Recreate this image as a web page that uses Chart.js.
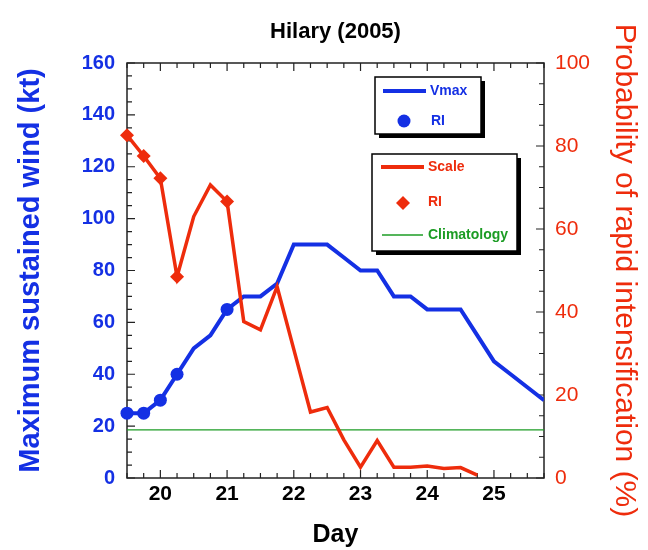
<!DOCTYPE html>
<html>
<head>
<meta charset="utf-8">
<script src="https://cdn.jsdelivr.net/npm/chart.js@4.4.1/dist/chart.umd.min.js"></script>
<style>
  html, body { margin: 0; padding: 0; background: #fff; }
  canvas { display: block; }
</style>
</head>
<body>
<canvas id="chart" width="648" height="550"></canvas>
<script>
(() => {
  'use strict';

  // data
  const vmaxDays = [19.5, 19.75, 20, 20.25, 20.5, 20.75, 21, 21.25, 21.5, 21.75, 22, 22.25, 22.5,
    22.75, 23, 23.25, 23.5, 23.75, 24, 24.25, 24.5, 24.75, 25, 25.25, 25.5, 25.75];
  const vmaxKt = [25, 25, 30, 40, 50, 55, 65, 70, 70, 75, 90, 90, 90,
    85, 80, 80, 70, 70, 65, 65, 65, 55, 45, 40, 35, 30];

  const scaleDays = [19.5, 19.75, 20, 20.25, 20.5, 20.75, 21, 21.25, 21.5, 21.75, 22, 22.25,
    22.5, 22.75, 23, 23.25, 23.5, 23.75, 24, 24.25, 24.5, 24.75];
  const scaleProb = [82.6, 77.6, 72.2, 48.5, 63, 70.6, 66.6, 37.7, 35.7, 46.1, 31, 15.9,
    17, 9.2, 2.6, 9, 2.6, 2.6, 2.9, 2.3, 2.5, 0.7];

  const riDays = [19.5, 19.75, 20, 20.25, 21];
  const riKt = [25, 25, 30, 40, 65];
  const riProb = [82.6, 77.6, 72.2, 48.5, 66.6];

  const climDays = [19.5, 25.75];
  const climProb = 11.6;

  const xTicks = [20, 21, 22, 23, 24, 25];

  const BLUE = '#1430e4';
  const RED = '#ee2c0c';
  const GREEN = '#1c9c24';
  const FONT = '"Liberation Sans", Arial, Helvetica, sans-serif';

  const toPoints = (xs, ys) => xs.map((x, i) => ({ x: x, y: Array.isArray(ys) ? ys[i] : ys }));

  // frame + inward ticks on all four sides
  const framePlugin = {
    id: 'frame',
    beforeDatasetsDraw: (chart) => {
      const { ctx, chartArea: a, scales } = chart;
      ctx.save();
      ctx.strokeStyle = '#222';
      ctx.lineWidth = 1.2;
      ctx.beginPath();
      // x ticks, every 6 hours
      for (let d = 19.5; d <= 25.75 + 1e-6; d += 0.25) {
        const px = scales.x.getPixelForValue(d);
        const len = Math.abs(d - Math.round(d)) < 1e-6 ? 8 : 5;
        ctx.moveTo(px, a.bottom); ctx.lineTo(px, a.bottom - len);
        ctx.moveTo(px, a.top); ctx.lineTo(px, a.top + len);
      }
      // left ticks, every 5 kt
      for (let v = 0; v <= 160; v += 5) {
        const py = scales.y.getPixelForValue(v);
        const len = v % 20 === 0 ? 8 : 5;
        ctx.moveTo(a.left, py); ctx.lineTo(a.left + len, py);
      }
      // right ticks, every 5 %
      for (let v = 0; v <= 100; v += 5) {
        const py = scales.y1.getPixelForValue(v);
        const len = v % 20 === 0 ? 8 : 5;
        ctx.moveTo(a.right, py); ctx.lineTo(a.right - len, py);
      }
      ctx.stroke();
      ctx.lineWidth = 1.5;
      ctx.strokeRect(a.left, a.top, a.right - a.left, a.bottom - a.top);
      ctx.restore();
    }
  };

  // the two boxed legends with drop shadows
  const legendPlugin = {
    id: 'boxLegends',
    afterDraw: (chart) => {
      const ctx = chart.ctx;
      const box = (x, y, w, h) => {
        ctx.fillStyle = '#000';
        ctx.fillRect(x + 4, y + 4, w, h);
        ctx.fillStyle = '#fff';
        ctx.fillRect(x, y, w, h);
        ctx.strokeStyle = '#000';
        ctx.lineWidth = 1.5;
        ctx.strokeRect(x, y, w, h);
      };
      const line = (x1, x2, y, color, width) => {
        ctx.strokeStyle = color;
        ctx.lineWidth = width;
        ctx.beginPath();
        ctx.moveTo(x1, y);
        ctx.lineTo(x2, y);
        ctx.stroke();
      };
      const label = (text, x, y, color) => {
        ctx.fillStyle = color;
        ctx.fillText(text, x, y);
      };
      ctx.save();
      ctx.font = 'bold 14px ' + FONT;
      ctx.textBaseline = 'middle';
      ctx.textAlign = 'left';

      box(375, 77, 106, 57);
      line(383, 426, 91, BLUE, 4);
      label('Vmax', 430, 91, BLUE);
      ctx.fillStyle = BLUE;
      ctx.beginPath();
      ctx.arc(404, 121, 6.5, 0, Math.PI * 2);
      ctx.fill();
      label('RI', 431, 121, BLUE);

      box(372, 154, 145, 97);
      line(381, 424, 167, RED, 4);
      label('Scale', 428, 167, RED);
      ctx.fillStyle = RED;
      ctx.beginPath();
      ctx.moveTo(403, 196); ctx.lineTo(410, 203); ctx.lineTo(403, 210); ctx.lineTo(396, 203);
      ctx.closePath();
      ctx.fill();
      label('RI', 428, 202, RED);
      line(382, 423, 235, GREEN, 1.3);
      label('Climatology', 428, 235, GREEN);
      ctx.restore();
    }
  };

  new Chart(document.getElementById('chart'), {
    type: 'line',
    data: {
      datasets: [
        {
          label: 'Climatology',
          data: toPoints(climDays, climProb),
          yAxisID: 'y1',
          borderColor: GREEN,
          borderWidth: 1.3,
          pointRadius: 0,
          order: 5
        },
        {
          label: 'Vmax',
          data: toPoints(vmaxDays, vmaxKt),
          yAxisID: 'y',
          borderColor: BLUE,
          borderWidth: 4,
          pointRadius: 0,
          order: 4
        },
        {
          label: 'RI (Vmax)',
          data: toPoints(riDays, riKt),
          yAxisID: 'y',
          showLine: false,
          pointStyle: 'circle',
          pointRadius: 6.5,
          pointBackgroundColor: BLUE,
          pointBorderColor: BLUE,
          pointBorderWidth: 0,
          clip: false,
          order: 3
        },
        {
          label: 'Scale',
          data: toPoints(scaleDays, scaleProb),
          yAxisID: 'y1',
          borderColor: RED,
          borderWidth: 3.5,
          pointRadius: 0,
          order: 2
        },
        {
          label: 'RI (Scale)',
          data: toPoints(riDays, riProb),
          yAxisID: 'y1',
          showLine: false,
          pointStyle: 'rectRot',
          pointRadius: 7,
          pointBackgroundColor: RED,
          pointBorderColor: RED,
          pointBorderWidth: 0,
          clip: false,
          order: 1
        }
      ]
    },
    options: {
      responsive: false,
      animation: false,
      devicePixelRatio: 1,
      layout: { padding: 0 },
      elements: { line: { tension: 0 } },
      plugins: {
        legend: { display: false },
        tooltip: { enabled: false },
        title: {
          display: true,
          text: 'Hilary (2005)',
          fullSize: false,
          color: '#000',
          font: { family: FONT, size: 22, weight: 'bold' },
          padding: { top: 19, bottom: 17.6 }
        }
      },
      scales: {
        x: {
          type: 'linear',
          position: 'bottom',
          min: 19.5,
          max: 25.75,
          afterBuildTicks: (scale) => { scale.ticks = xTicks.map((v) => ({ value: v })); },
          afterFit: (scale) => { scale.height = 72; },
          grid: { display: false, drawTicks: false },
          border: { display: false },
          ticks: {
            color: '#000',
            padding: 4,
            font: { family: FONT, size: 21, weight: 'bold' }
          },
          title: {
            display: true,
            text: 'Day',
            color: '#000',
            padding: 0,
            font: { family: FONT, size: 25, weight: 'bold' }
          }
        },
        y: {
          position: 'left',
          min: 0,
          max: 160,
          afterFit: (scale) => { scale.width = 127; },
          grid: { display: false, drawTicks: false },
          border: { display: false },
          ticks: {
            stepSize: 20,
            color: BLUE,
            padding: 12,
            font: { family: FONT, size: 20, weight: 'bold' }
          },
          title: {
            display: true,
            text: 'Maximum sustained wind (kt)',
            color: BLUE,
            padding: 13.6,
            font: { family: FONT, size: 29, weight: 'bold' }
          }
        },
        y1: {
          position: 'right',
          min: 0,
          max: 100,
          afterFit: (scale) => { scale.width = 104; },
          grid: { display: false, drawTicks: false },
          border: { display: false },
          ticks: {
            stepSize: 20,
            color: RED,
            padding: 11,
            font: { family: FONT, size: 21 }
          },
          title: {
            display: true,
            text: 'Probability of rapid intensification (%)',
            color: RED,
            padding: 6,
            font: { family: FONT, size: 30 }
          }
        }
      }
    },
    plugins: [framePlugin, legendPlugin]
  });
})();
</script>
</body>
</html>
